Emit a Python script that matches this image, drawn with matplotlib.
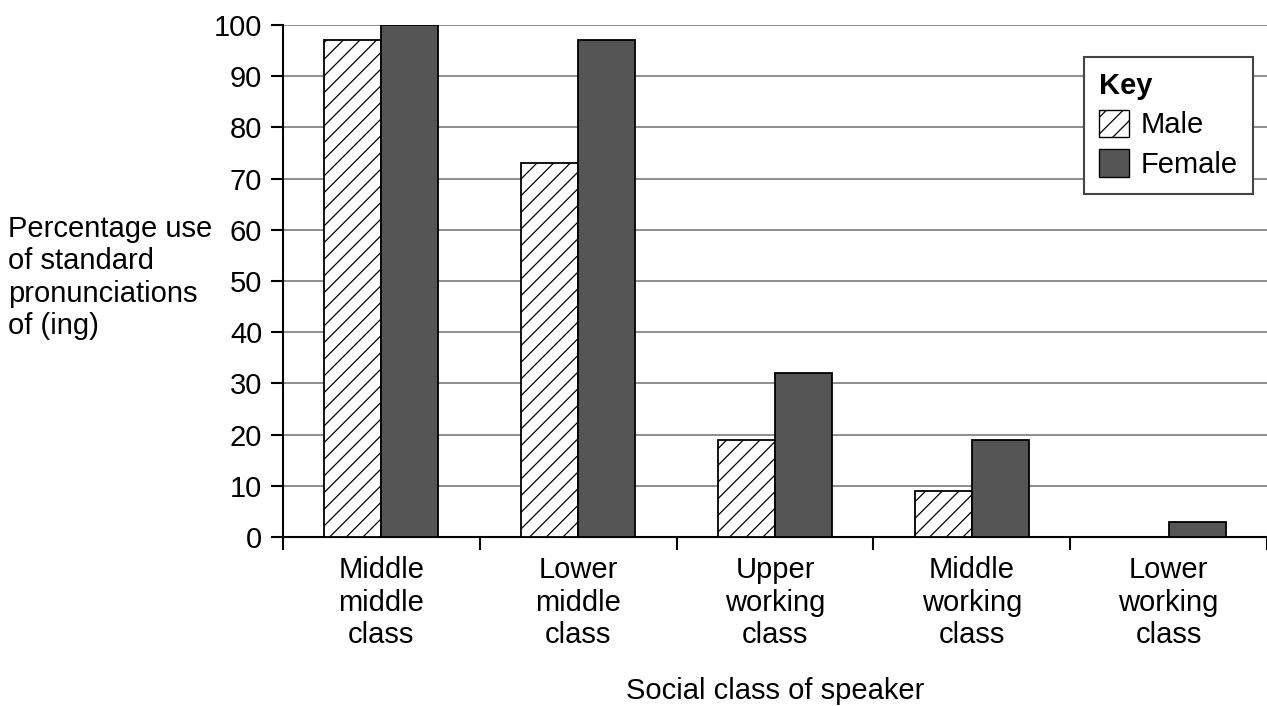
import matplotlib
matplotlib.use("Agg")
import matplotlib.pyplot as plt
import numpy as np
from matplotlib.patches import Patch

categories = ["Middle\nmiddle\nclass", "Lower\nmiddle\nclass", "Upper\nworking\nclass",
              "Middle\nworking\nclass", "Lower\nworking\nclass"]
male = [97, 73, 19, 9, 0]
female = [100, 97, 32, 19, 3]
yticks = [0, 10, 20, 30, 40, 50, 60, 70, 80, 90, 100]

plt.rcParams['font.family'] = ['Liberation Sans', 'DejaVu Sans']
plt.rcParams['hatch.linewidth'] = 0.9
FS = 21

fig = plt.figure(figsize=(12.67, 7.06), dpi=100)
ax = fig.add_axes([283/1267, 1-537/706, 1-283/1267, (537-25)/706])

x = np.arange(len(categories))
w = 0.29
ax.bar(x - w/2, male, w, facecolor='white', edgecolor='black', hatch='//', linewidth=1.3, zorder=3)
ax.bar(x + w/2, female, w, facecolor='#555555', edgecolor='black', linewidth=1.3, zorder=3)

ax.set_xlim(-0.5, len(categories) - 0.5)
ax.set_ylim(0, 100)
ax.set_yticks(yticks)
ax.set_yticklabels([str(v) for v in yticks], fontsize=FS)
ax.yaxis.grid(True, color='#7a7a7a', linewidth=1.2, zorder=0)
ax.set_axisbelow(True)

ax.set_xticks(np.arange(-0.5, len(categories), 1.0))
ax.set_xticklabels([])
ax.set_xticks(x, minor=True)
ax.set_xticklabels(categories, minor=True, fontsize=FS, linespacing=1.2)
ax.tick_params(axis='x', which='minor', length=0, pad=14)
ax.tick_params(axis='x', which='major', length=9, width=1.5, direction='out')
ax.tick_params(axis='y', length=9, width=1.5, direction='out', pad=6)

for s in ['top', 'right']:
    ax.spines[s].set_visible(False)
for s in ['left', 'bottom']:
    ax.spines[s].set_linewidth(1.5)

handles = [Patch(facecolor='white', edgecolor='black', hatch='//', linewidth=1.0, label='Male'),
           Patch(facecolor='#555555', edgecolor='black', linewidth=1.0, label='Female')]
leg = ax.legend(handles=handles, title='Key', loc='upper left', bbox_to_anchor=(0.814, 0.9375),
                borderaxespad=0, fontsize=FS, title_fontproperties={'weight': 'bold', 'size': FS},
                alignment='left', fancybox=False, framealpha=1, edgecolor='#444444',
                handlelength=1.05, handleheight=1.05, handletextpad=0.4, labelspacing=0.35,
                borderpad=0.5)
leg.get_frame().set_linewidth(1.5)

fig.text(8/1267, 1-215/706, "Percentage use\nof standard\npronunciations\nof (ing)",
         fontsize=FS, ha='left', va='top', linespacing=1.2)
fig.text(775/1267, 1-691/706, "Social class of speaker", fontsize=FS, ha='center', va='center')

fig.savefig("out.png", dpi=100)
